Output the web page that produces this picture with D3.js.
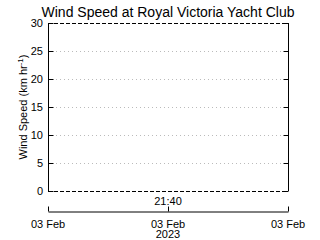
<!DOCTYPE html>
<html>
<head>
<meta charset="utf-8">
<script src="https://cdn.jsdelivr.net/npm/d3@7"></script>
<style>
  body { margin: 0; background: #fff; }
  svg { display: block; }
  text { font-family: "Liberation Sans", "DejaVu Sans", sans-serif; fill: #000; }
</style>
</head>
<body>
<div id="chart"></div>
<script>
// chart data (no observations in this window)
const titleText = 'Wind Speed at Royal Victoria Yacht Club';
const windSpeed = [];            // [{t, v}] - empty
const yTicks = [0, 5, 10, 15, 20, 25, 30];
const yDomain = [0, 30];
const xTickLabels = ['03 Feb', '03 Feb', '03 Feb'];
const centerTime = '21:40';
const yearLabel = '2023';

const width = 320, height = 240;
const margin = { top: 23, right: 32, bottom: 49, left: 48 };
const plotW = width - margin.left - margin.right;
const plotH = height - margin.top - margin.bottom;

const svg = d3.select('#chart').append('svg')
  .attr('width', width)
  .attr('height', height);

const x = d3.scalePoint().domain(d3.range(xTickLabels.length)).range([0, plotW]);
const y = d3.scaleLinear().domain(yDomain).range([plotH, 0]);

const g = svg.append('g')
  .attr('transform', 'translate(' + margin.left + ',' + margin.top + ')');

// title
svg.append('text')
  .attr('x', 168).attr('y', 17)
  .attr('text-anchor', 'middle')
  .style('font-size', '14px')
  .text(titleText);

// grid lines
g.selectAll('.grid')
  .data(yTicks.filter(d => d > yDomain[0] && d < yDomain[1]))
  .join('line')
  .attr('x1', 0).attr('x2', plotW)
  .attr('y1', d => Math.round(y(d)) + 0.5).attr('y2', d => Math.round(y(d)) + 0.5)
  .attr('stroke', '#bbb')
  .attr('stroke-dasharray', '1,3');

// top / bottom dashed frame
[yDomain[0], yDomain[1]].forEach(v => {
  g.append('line')
    .attr('x1', 0).attr('x2', plotW)
    .attr('y1', Math.round(y(v)) + 0.5).attr('y2', Math.round(y(v)) + 0.5)
    .attr('stroke', '#000')
    .attr('stroke-dasharray', '4,2');
});

// left axis
const minor = d3.range(yDomain[0], yDomain[1] + 1, 1);
const left = g.append('g').attr('transform', 'translate(0.5,0)');
left.call(d3.axisRight(y).tickValues(minor).tickSize(3).tickFormat(''))
  .call(s => s.select('.domain').remove());
left.call(d3.axisRight(y).tickValues(yTicks).tickSize(5).tickFormat(''))
  .call(s => s.select('.domain').remove());
left.append('line').attr('y1', 0).attr('y2', plotH).attr('stroke', '#000');
g.selectAll('.ylab')
  .data(yTicks)
  .join('text')
  .attr('x', -5).attr('y', d => y(d) + 4)
  .attr('text-anchor', 'end')
  .style('font-size', '11px')
  .text(d => d);

// right axis
const right = g.append('g').attr('transform', 'translate(' + (plotW + 0.5) + ',0)');
right.call(d3.axisLeft(y).tickValues(minor).tickSize(3).tickFormat(''))
  .call(s => s.select('.domain').remove());
right.call(d3.axisLeft(y).tickValues(yTicks).tickSize(5).tickFormat(''))
  .call(s => s.select('.domain').remove());
right.append('line').attr('y1', 0).attr('y2', plotH).attr('stroke', '#000');

g.selectAll('.tick line').attr('stroke', '#000');

// y label
svg.append('text')
  .attr('transform', 'translate(27,' + (margin.top + plotH / 2) + ') rotate(-90)')
  .attr('text-anchor', 'middle')
  .style('font-size', '11px')
  .call(t => {
    t.append('tspan').text('Wind Speed (km hr');
    t.append('tspan').attr('dy', -4).style('font-size', '8px').text('-1');
    t.append('tspan').attr('dy', 4).text(')');
  });

// series (none)
g.append('path')
  .datum(windSpeed)
  .attr('fill', 'none')
  .attr('stroke', '#000')
  .attr('d', d3.line().x(d => x(d.t)).y(d => y(d.v)));

// time label under plot
svg.append('text')
  .attr('x', margin.left + x(1)).attr('y', 205)
  .attr('text-anchor', 'middle')
  .style('font-size', '11px')
  .text(centerTime);

// date axis
const dateAxis = svg.append('g')
  .attr('transform', 'translate(' + margin.left + ',211.5)');
dateAxis.call(d3.axisTop(x).tickSize(5).tickSizeOuter(0).tickFormat(''));
dateAxis.select('.domain').attr('stroke', '#000');
dateAxis.selectAll('.tick line').attr('stroke', '#000');
dateAxis.selectAll('.dlab')
  .data(xTickLabels)
  .join('text')
  .attr('x', (d, i) => x(i)).attr('y', 16)
  .attr('text-anchor', 'middle')
  .style('font-size', '11px')
  .text(d => d);

svg.append('text')
  .attr('x', margin.left + x(1)).attr('y', 238)
  .attr('text-anchor', 'middle')
  .style('font-size', '11px')
  .text(yearLabel);
</script>
</body>
</html>
